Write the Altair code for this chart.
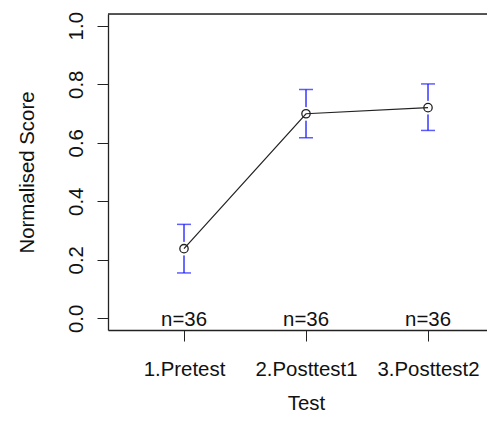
import altair as alt
import pandas as pd

# ---- data ----
tests = ["1.Pretest", "2.Posttest1", "3.Posttest2"]
positions = [1, 2, 3]
means = [0.238, 0.699, 0.720]
lower = [0.155, 0.617, 0.642]
upper = [0.321, 0.782, 0.801]
n_labels = ["n=36", "n=36", "n=36"]
y_ticks = [0.0, 0.2, 0.4, 0.6, 0.8, 1.0]

df = pd.DataFrame(dict(pos=positions, test=tests, mean=means,
                       lower=lower, upper=upper, n=n_labels, zero=[0.0] * 3))

W, H = 379, 316
PX_PER_UNIT = 122.0
FONT = "Liberation Sans"
FS = 20.4
BLUE = "#1a1aff"

xs = alt.Scale(domain=[0.377, 0.377 + W / PX_PER_UNIT], nice=False, zero=False)
ys = alt.Scale(domain=[-0.04, 1.04], nice=False, zero=False)
label_expr = "[" + ",".join(f"'{t}'" for t in tests) + "][datum.value-1]"

x_axis = alt.Axis(values=positions, labelExpr=label_expr, title="Test", grid=False,
                  tickSize=11, labelPadding=34, labelBaseline="alphabetic",
                  labelFlush=False, labelOverlap=False,
                  domainColor="#222222", tickColor="#222222", domainWidth=1.3, tickWidth=1,
                  labelFontSize=FS, labelColor="#111111", labelFont=FONT,
                  titleFontSize=FS, titleFontWeight="normal", titleFont=FONT, titleColor="#111111",
                  titleX=198, titleY=79, titleBaseline="alphabetic", titleAlign="center")
y_axis = alt.Axis(values=y_ticks, format=".1f", title="Normalised Score", grid=False,
                  tickSize=11, labelPadding=15, labelAngle=270, labelBaseline="alphabetic",
                  labelAlign="center", labelFlush=False, labelOverlap=False,
                  domainColor="#222222", tickColor="#222222", domainWidth=1.3, tickWidth=1,
                  labelFontSize=FS, labelColor="#111111", labelFont=FONT,
                  titleFontSize=FS, titleFontWeight="normal", titleFont=FONT, titleColor="#111111",
                  titleAngle=270, titleX=-75, titleY=158, titleBaseline="alphabetic",
                  titleAlign="center")

base = alt.Chart(df)
x_enc = alt.X("pos:Q", scale=xs, axis=x_axis)

bars = base.mark_rule(color=BLUE, strokeWidth=1.3).encode(
    x=x_enc, y=alt.Y("lower:Q", scale=ys, axis=y_axis), y2="upper:Q")
mask = base.mark_point(filled=True, color="white", opacity=1, size=190, strokeWidth=0).encode(
    x=alt.X("pos:Q", scale=xs), y=alt.Y("mean:Q", scale=ys))
caps_hi = base.mark_tick(color=BLUE, size=14, thickness=1.5, orient="horizontal").encode(
    x=alt.X("pos:Q", scale=xs), y=alt.Y("upper:Q", scale=ys))
caps_lo = base.mark_tick(color=BLUE, size=14, thickness=1.5, orient="horizontal").encode(
    x=alt.X("pos:Q", scale=xs), y=alt.Y("lower:Q", scale=ys))
line = base.mark_line(color="#222222", strokeWidth=1.2).encode(
    x=alt.X("pos:Q", scale=xs), y=alt.Y("mean:Q", scale=ys))
pts = base.mark_point(filled=False, color="#222222", size=70, strokeWidth=1.3, opacity=1).encode(
    x=alt.X("pos:Q", scale=xs), y=alt.Y("mean:Q", scale=ys))
ntext = base.mark_text(fontSize=FS, font=FONT, color="#111111", baseline="alphabetic", dy=8).encode(
    x=alt.X("pos:Q", scale=xs), y=alt.Y("zero:Q", scale=ys), text="n:N")
top_line = alt.Chart(pd.DataFrame({"a": [0]})).mark_rule(color="#222222", strokeWidth=1.3).encode(
    x=alt.value(0), x2=alt.value(W), y=alt.value(0))

chart = alt.layer(bars, mask, caps_hi, caps_lo, line, pts, ntext, top_line).properties(
    width=W, height=H,
    padding={"left": 100, "top": 6, "right": 0, "bottom": 85},
    autosize=alt.AutoSizeParams(type="none"),
).configure_view(stroke=None).configure(background="white")

chart.save("out.html", embed_options={"renderer": "svg", "actions": False})
